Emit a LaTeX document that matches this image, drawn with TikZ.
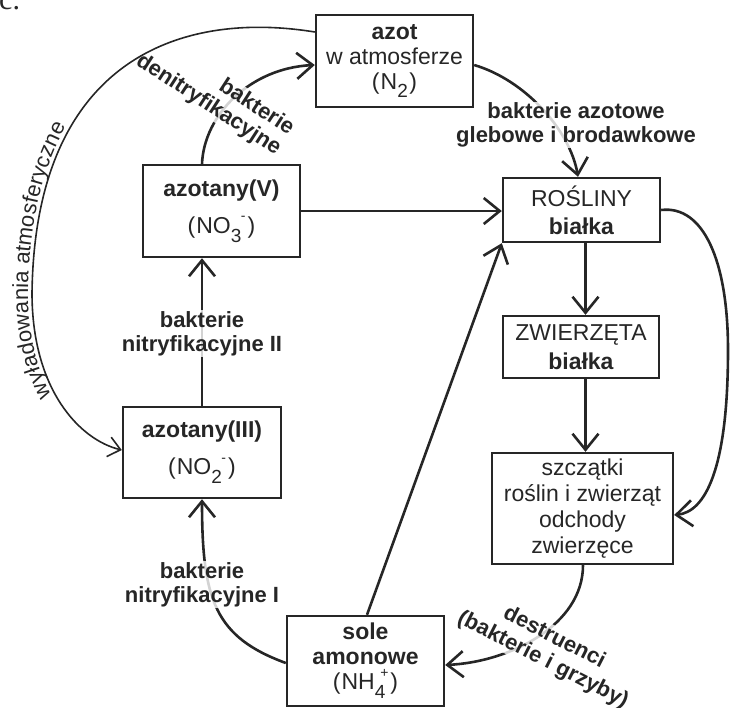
\documentclass[tikz,border=0pt]{standalone}
\usepackage{fontspec}
\setmainfont{Liberation Sans}
\newfontfamily\serifface{Liberation Serif}
\usetikzlibrary{arrows.meta,decorations.text,calc}
\pgfdeclarelayer{front}
\pgfsetlayers{main,front}
\definecolor{ink}{rgb}{0.15,0.15,0.15}
\newcommand\subsup[2]{\raisebox{-0.38em}{\fontsize{19}{19}\selectfont #1}\kern-0.02em\raisebox{0.55em}{\fontsize{14}{14}\selectfont #2}}
\tikzset{
  box/.style={draw=ink, line width=2.4pt, align=center, inner sep=0pt, text=ink},
  conn/.style={draw=ink, line width=2.6pt, -{Straight Barb[length=16pt,width=26pt]}},
  thinconn/.style={draw=ink, line width=1.6pt, -{Straight Barb[length=12pt,width=20pt]}},
  lbl/.style={text=ink, font=\bfseries\fontsize{22}{24}\selectfont, align=center, fill=white, fill opacity=0.8, text opacity=1, inner sep=1pt},
}
\begin{document}
\begin{tikzpicture}[x=1pt,y=-1pt]
\useasboundingbox (0,0) rectangle (731,707);
\clip (0,0) rectangle (731,707);

\node[font=\serifface\fontsize{30}{30}\selectfont, anchor=base west, inner sep=0pt, text=ink] (clabel) at (-1,9) {c.};

% boxes
\begin{pgfonlayer}{front}
\node[box, minimum width=157pt, minimum height=92pt, font=\fontsize{23}{25}\selectfont] (azot) at (394.5,61)
  {\textbf{azot}\\w atmosferze\\(\kern1pt N\subsup{2}{}\kern2pt)};
\node[box, minimum width=157pt, minimum height=92pt, font=\fontsize{23}{37}\selectfont] (no3) at (221.5,211)
  {\textbf{azotany(V)}\\(\kern1pt NO\subsup{3}{-}\kern2pt)};
\node[box, minimum width=158pt, minimum height=91pt, font=\fontsize{23}{37}\selectfont] (no2) at (202,452.5)
  {\textbf{azotany(III)}\\(\kern1pt NO\subsup{2}{-}\kern2pt)};
\node[box, minimum width=157pt, minimum height=64pt, font=\fontsize{23}{28}\selectfont] (roslin) at (581.5,210)
  {ROŚLINY\\\textbf{białka}};
\node[box, minimum width=156pt, minimum height=62pt, font=\fontsize{23}{29}\selectfont] (zwierz) at (581,347)
  {ZWIERZĘTA\\\textbf{białka}};
\node[box, minimum width=181pt, minimum height=111pt, font=\fontsize{23}{26}\selectfont] (szcz) at (582.5,508.5)
  {szczątki\\roślin i zwierząt\\odchody\\zwierzęce};
\node[box, minimum width=157pt, minimum height=90pt, font=\fontsize{23}{25}\selectfont] (sole) at (365.5,661)
  {\textbf{sole}\\\textbf{amonowe}\\(\kern1pt NH\subsup{4}{\kern-0.33em+}\kern2pt)};

% atmospheric discharge arc
\draw[thinconn] ([yshift=29pt]azot.west) .. controls (180,10) and (35,60) .. (32,293)
  .. controls (32,390) and (80,440) .. ([yshift=2.5pt]no2.west);
\end{pgfonlayer}

\path[decorate, decoration={text along path, raise=4pt,
    text align={left indent=90pt},
    text={|\fontsize{22}{22}\selectfont\color{ink}|wyładowania atmosferyczne}}]
  ([yshift=2.5pt]no2.west) .. controls (80,440) and (32,390) .. (32,293)
  .. controls (35,60) and (180,10) .. ([yshift=29pt]azot.west);

% connectors
\draw[conn] ([yshift=-4pt]azot.east) .. controls (525,80) and (570,130) .. ([xshift=-3.5pt]roslin.north);
\draw[conn] ([xshift=-19.5pt]no3.north) .. controls (204,115) and (250,68) .. ([yshift=-4pt]azot.west);
\draw[conn] (no3.east) -- (no3.east -| roslin.west);
\draw[conn] ([xshift=1.5pt]sole.north) -- (roslin.south west);
\draw[conn] ([xshift=4pt]roslin.south) -- ([xshift=4.5pt]zwierz.north);
\draw[conn] ([xshift=4.5pt]zwierz.south) -- ([xshift=3pt]szcz.north);
\draw[conn] (roslin.east) .. controls (703,205) and (728,260) .. (728,350)
  .. controls (728,470) and (705,512) .. ([yshift=-6.5pt]szcz.east);
\draw[conn] ([xshift=0.5pt]szcz.south) .. controls (583,625) and (510,662) .. ([yshift=-4pt]sole.east);
\draw[conn] ([yshift=-2pt]sole.west) .. controls (215,637) and (202,600) .. (no2.south);
\draw[conn] (no2.north) -- ([xshift=-19.5pt]no3.south);

% labels
\node[lbl] (lazot) at (576,125) {bakterie azotowe\\glebowe i brodawkowe};
\node[lbl, rotate=-33, align=right] (lden) at (215,95) {bakterie\\denitryfikacyjne};
\node[lbl] (lnit2) at (202,333.5) {bakterie\\nitryfikacyjne II};
\node[lbl] (lnit1) at (202,584.5) {bakterie\\nitryfikacyjne I};
\node[lbl, rotate=-27, font=\bfseries\fontsize{22}{25}\selectfont] (ldes) at (548.5,649) {destruenci\\(bakterie i grzyby)};
\end{tikzpicture}
\end{document}
